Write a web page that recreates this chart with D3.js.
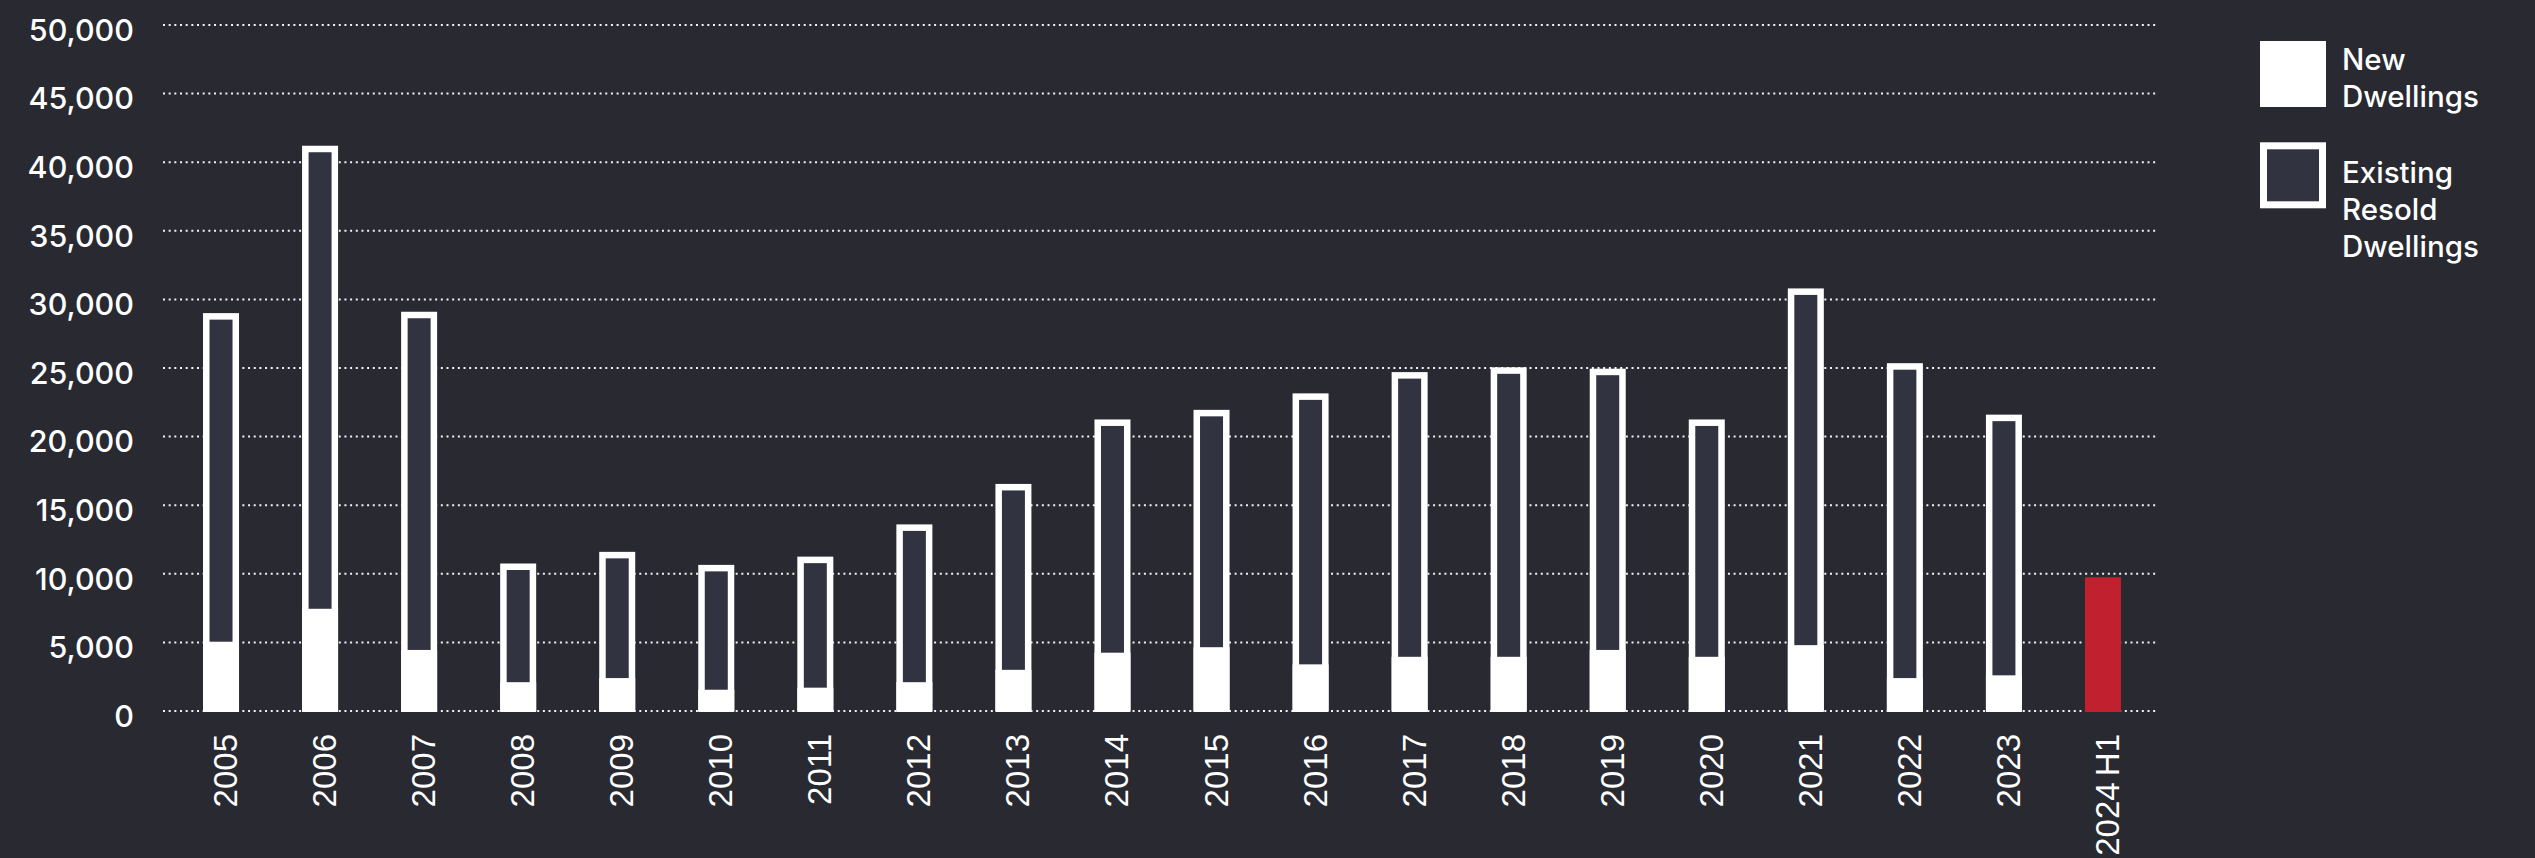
<!DOCTYPE html>
<html>
<head>
<meta charset="utf-8">
<script src="https://cdn.jsdelivr.net/npm/d3@7"></script>
<style>
  html, body { margin: 0; padding: 0; background: #282931; }
  svg { display: block; }
</style>
</head>
<body>
<svg id="chart" width="2535" height="858"></svg>
<script>
// ---- Data ----
const categories = ["2005","2006","2007","2008","2009","2010","2011","2012","2013","2014",
                    "2015","2016","2017","2018","2019","2020","2021","2022","2023","2024 H1"];
const newDwellings =    [5050, 7450, 4450, 2100, 2400, 1550, 1700, 2100, 3000, 4250,
                         4650, 3400, 3950, 3950, 4450, 3950, 4800, 2400, 2600, null];
const existingResold =  [23950, 33750, 24650, 8650, 9200, 9100, 9550, 11500, 13550, 17000,
                         17300, 19750, 20750, 21100, 20500, 17300, 26000, 22950, 19000, null];
const partialYearTotal = [null, null, null, null, null, null, null, null, null, null,
                          null, null, null, null, null, null, null, null, null, 9750];
const yTicks = [0, 5000, 10000, 15000, 20000, 25000, 30000, 35000, 40000, 45000, 50000];
const legendItems = [["New", "Dwellings"], ["Existing", "Resold", "Dwellings"]];

// ---- Layout ----
const svg = d3.select("#chart");
const W = 2535, H = 858;
svg.append("rect").attr("width", W).attr("height", H).attr("fill", "#282931");

const x = d3.scaleBand().domain(categories).range([171.5, 2152.5])
  .paddingInner(0.6365).paddingOuter(0.31825);
const y = d3.scaleLinear().domain([0, 50000]).range([711, 25]);

const white = "#ffffff";
const barFill = "#323340";
const red = "#c1202e";
const sw = 6.5;

// gridlines
svg.append("g").selectAll("line").data(yTicks).join("line")
  .attr("x1", 163).attr("x2", 2157)
  .attr("y1", d => y(d)).attr("y2", d => y(d))
  .attr("stroke", white).attr("stroke-width", 2)
  .attr("stroke-dasharray", "2 3.67").attr("opacity", 0.95);

// y axis labels
const yAxis = svg.append("g").attr("transform", "translate(134,0)")
  .call(d3.axisLeft(y).tickValues(yTicks).tickFormat(d3.format(",")).tickSize(0).tickPadding(0));
yAxis.select(".domain").remove();
yAxis.selectAll("text")
  .attr("fill", white).attr("font-family", "Inter, sans-serif")
  .attr("font-size", 30.5).attr("font-weight", 500)
  .attr("dy", "0.5em");

// bars
const bw = x.bandwidth();
const data = categories.map((c, i) => ({
  cat: c, n: newDwellings[i], e: existingResold[i], p: partialYearTotal[i]
}));

const full = data.filter(d => d.n != null);
svg.append("g").selectAll("rect").data(full).join("rect")
  .attr("x", d => x(d.cat) + sw / 2)
  .attr("y", d => y(d.n + d.e) + sw / 2)
  .attr("width", bw - sw)
  .attr("height", d => y(0) - y(d.n + d.e) - sw)
  .attr("fill", barFill).attr("stroke", white).attr("stroke-width", sw);

svg.append("g").selectAll("rect").data(full).join("rect")
  .attr("x", d => x(d.cat))
  .attr("y", d => y(d.n))
  .attr("width", bw)
  .attr("height", d => y(0) - y(d.n) + 1)
  .attr("fill", white);

svg.append("g").selectAll("rect").data(data.filter(d => d.p != null)).join("rect")
  .attr("x", d => x(d.cat))
  .attr("y", d => y(d.p))
  .attr("width", bw)
  .attr("height", d => y(0) - y(d.p) + 1)
  .attr("fill", red);

// x axis labels
const xAxis = svg.append("g").attr("transform", "translate(0,734)")
  .call(d3.axisBottom(x).tickSize(0).tickPadding(0));
xAxis.select(".domain").remove();
xAxis.selectAll("text")
  .attr("fill", white).attr("font-family", "'Liberation Sans', Arial, sans-serif")
  .attr("font-size", 33)
  .attr("word-spacing", -3)
  .attr("x", 0).attr("y", 0).attr("dy", 0)
  .attr("text-anchor", "end")
  .attr("transform", "translate(16,0) rotate(-90)");

// legend
const lg = svg.append("g");
lg.append("rect").attr("x", 2260).attr("y", 41).attr("width", 66).attr("height", 66).attr("fill", white);
lg.append("rect").attr("x", 2263.5).attr("y", 145.8).attr("width", 59).attr("height", 59)
  .attr("fill", barFill).attr("stroke", white).attr("stroke-width", 7);
const lineBase = [70, 183.3];
legendItems.forEach((lines, k) => {
  const t = lg.append("text").attr("x", 2342).attr("y", lineBase[k])
    .attr("fill", white).attr("font-family", "Inter, sans-serif")
    .attr("font-size", 29.5).attr("font-weight", 500);
  lines.forEach((s, j) => {
    t.append("tspan").attr("x", 2342).attr("y", lineBase[k] + j * 36.9).text(s);
  });
});
</script>
</body>
</html>
